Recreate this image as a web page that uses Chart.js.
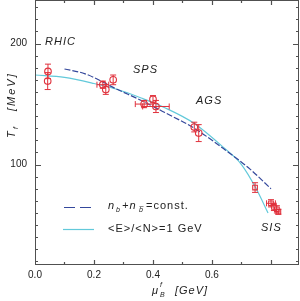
<!DOCTYPE html>
<html>
<head>
<meta charset="utf-8">
<script src="https://cdn.jsdelivr.net/npm/chart.js@4.4.0/dist/chart.umd.min.js"></script>
<style>
  body { margin: 0; background: #fff; }
  #wrap { width: 300px; height: 301px; }
</style>
</head>
<body>
<div id="wrap"><canvas id="c" width="300" height="301"></canvas></div>
<script>
// --- data ---
// <E>/<N> = 1 GeV curve
const cyanMu = [0.0, 0.1, 0.2, 0.28, 0.36, 0.44, 0.54, 0.64, 0.7, 0.75, 0.79];
const cyanT  = [174, 172, 167, 162, 155, 147, 134, 114, 100, 80, 60];
// n_b + n_bbar = const. curve
const darkMu = [0.1, 0.17, 0.28, 0.36, 0.44, 0.54, 0.64, 0.73, 0.8];
const darkT  = [179, 175, 162, 153, 143, 130, 113, 96, 80];

// freeze-out points (circles)
const ptMu   = [0.044, 0.043, 0.23, 0.24, 0.265, 0.37, 0.40, 0.41, 0.54, 0.555];
const ptT    = [177, 169, 166, 162, 170, 150, 154, 148, 131, 126];
const ptMuEr = [0, 0, 0.02, 0, 0, 0.03, 0, 0.045, 0, 0];
const ptTEr  = [6, 7, 3, 4, 4, 3, 3, 5, 4, 7];
// SIS points (squares)
const sisMu   = [0.746, 0.80, 0.81, 0.82, 0.825];
const sisT    = [81, 68, 65, 63, 61];
const sisMuEr = [0, 0.015, 0, 0, 0];
const sisTEr  = [4, 3, 3, 3, 2];

const xTicks = [0.0, 0.2, 0.4, 0.6, 0.8];
const yTicks = [100, 200];

const RED = '#e0313c';
const CYAN = '#62c9da';
const NAVY = '#34489c';
const AXIS = '#505050';

const toXY = (xs, ys) => xs.map((x, i) => ({ x: x, y: ys[i] }));

// error bars
const errorBars = {
  id: 'errorBars',
  afterDatasetsDraw(chart) {
    const { ctx, scales: { x, y } } = chart;
    ctx.save();
    ctx.strokeStyle = RED;
    ctx.lineWidth = 1;
    const draw = (mus, ts, mer, ter) => {
      mus.forEach((m, i) => {
        const px = x.getPixelForValue(m), py = y.getPixelForValue(ts[i]);
        if (ter[i]) {
          const a = y.getPixelForValue(ts[i] + ter[i]), b = y.getPixelForValue(ts[i] - ter[i]);
          ctx.beginPath();
          ctx.moveTo(px, a); ctx.lineTo(px, b);
          ctx.moveTo(px - 3, a); ctx.lineTo(px + 3, a);
          ctx.moveTo(px - 3, b); ctx.lineTo(px + 3, b);
          ctx.stroke();
        }
        if (mer[i]) {
          const a = x.getPixelForValue(m - mer[i]), b = x.getPixelForValue(m + mer[i]);
          ctx.beginPath();
          ctx.moveTo(a, py); ctx.lineTo(b, py);
          ctx.moveTo(a, py - 3); ctx.lineTo(a, py + 3);
          ctx.moveTo(b, py - 3); ctx.lineTo(b, py + 3);
          ctx.stroke();
        }
      });
    };
    draw(ptMu, ptT, ptMuEr, ptTEr);
    draw(sisMu, sisT, sisMuEr, sisTEr);
    ctx.restore();
  }
};

// frame, inward ticks, titles, labels and legend
const decor = {
  id: 'decor',
  afterDraw(chart) {
    const { ctx, chartArea: a, scales: { x, y } } = chart;
    ctx.save();
    ctx.strokeStyle = AXIS;
    ctx.lineWidth = 1;
    ctx.strokeRect(a.left + 0.5, a.top + 0.5, a.right - a.left - 1, a.bottom - a.top - 1);
    ctx.lineWidth = 1.2;
    ctx.beginPath();
    for (let v = 20; v <= 230; v += 10) {
      const py = Math.round(y.getPixelForValue(v)) + 0.5;
      const len = v % 100 === 0 ? 6 : 3;
      ctx.moveTo(a.left, py); ctx.lineTo(a.left + len, py);
      ctx.moveTo(a.right, py); ctx.lineTo(a.right - len, py);
    }
    for (let k = 1; k <= 8; k++) {
      const px = Math.round(x.getPixelForValue(k / 10)) + 0.5;
      const len = k % 2 === 0 ? 5 : 3;
      ctx.moveTo(px, a.bottom); ctx.lineTo(px, a.bottom - len);
      ctx.moveTo(px, a.top); ctx.lineTo(px, a.top + len);
    }
    ctx.stroke();

    ctx.fillStyle = '#222';
    ctx.textBaseline = 'middle';
    ctx.textAlign = 'left';
    ctx.letterSpacing = '1px';
    ctx.font = 'italic 11px "Liberation Sans"';
    ctx.fillText('RHIC', 45, 42);
    ctx.fillText('SPS', 133, 70);
    ctx.fillText('AGS', 196, 101);
    ctx.fillText('SIS', 261, 228);

    // y title, rotated
    ctx.save();
    ctx.translate(12, 138);
    ctx.rotate(-Math.PI / 2);
    ctx.font = 'italic 11px "Liberation Sans"';
    ctx.fillText('T', 0, 0);
    ctx.font = 'italic 7px "Liberation Sans"';
    ctx.fillText('f', 9, 4);
    ctx.font = 'italic 11px "Liberation Sans"';
    ctx.letterSpacing = '2px';
    ctx.fillText('[MeV]', 27, 0);
    ctx.restore();

    // x title
    ctx.font = 'italic 11px "Liberation Sans"';
    ctx.fillText('\u03bc', 152, 291);
    ctx.font = 'italic 7px "Liberation Sans"';
    ctx.fillText('B', 160, 295);
    ctx.fillText('f', 160, 285);
    ctx.font = 'italic 11px "Liberation Sans"';
    ctx.fillText('[GeV]', 175, 291);

    // legend
    ctx.lineWidth = 1.2;
    ctx.strokeStyle = NAVY;
    ctx.setLineDash([11, 5]);
    ctx.beginPath(); ctx.moveTo(64, 207.5); ctx.lineTo(91, 207.5); ctx.stroke();
    ctx.setLineDash([]);
    ctx.strokeStyle = CYAN;
    ctx.beginPath(); ctx.moveTo(63, 229.5); ctx.lineTo(94, 229.5); ctx.stroke();

    ctx.font = 'italic 11px "Liberation Sans"';
    ctx.fillText('n', 108, 206);
    ctx.font = 'italic 7px "Liberation Sans"';
    ctx.fillText('b', 116, 210);
    ctx.font = 'italic 11px "Liberation Sans"';
    ctx.fillText('+n', 122, 206);
    ctx.font = 'italic 7px "Liberation Sans"';
    ctx.fillText('b\u0305', 139, 210);
    ctx.font = '11px "Liberation Sans"';
    ctx.fillText('=const.', 146, 206);
    ctx.fillText('<E>/<N>=1 GeV', 108, 229);
    ctx.restore();
  }
};

new Chart(document.getElementById('c'), {
  type: 'scatter',
  data: {
    datasets: [
      {
        data: toXY(ptMu, ptT),
        pointStyle: 'circle', pointRadius: 3.3, borderWidth: 1.1,
        borderColor: RED, backgroundColor: 'rgba(255,255,255,0)'
      },
      {
        data: toXY(sisMu, sisT),
        pointStyle: 'rect', pointRadius: 3.3, borderWidth: 1.1,
        borderColor: RED, backgroundColor: 'rgba(255,255,255,0)'
      },
      {
        data: toXY(darkMu, darkT),
        showLine: true, pointRadius: 0, borderColor: NAVY, borderWidth: 1.2,
        borderDash: [6, 2], cubicInterpolationMode: 'monotone'
      },
      {
        data: toXY(cyanMu, cyanT),
        showLine: true, pointRadius: 0, borderColor: CYAN, borderWidth: 1.2,
        cubicInterpolationMode: 'monotone'
      }
    ]
  },
  options: {
    responsive: false,
    devicePixelRatio: 1,
    animation: false,
    layout: { autoPadding: false, padding: { top: 0, right: 1, left: 0, bottom: 0 } },
    plugins: { legend: { display: false }, tooltip: { enabled: false } },
    scales: {
      x: {
        type: 'linear', min: 0, max: 0.895,
        grid: { display: false, drawTicks: false },
        border: { display: false },
        ticks: {
          stepSize: 0.1, autoSkip: false, maxRotation: 0, padding: 4,
          color: '#222', font: { family: 'Liberation Sans', size: 10 },
          callback: v => xTicks.some(t => Math.abs(t - v) < 1e-6) ? v.toFixed(1) : null
        },
        afterFit: s => { s.height = 36; s.paddingRight = 0; s.paddingLeft = 0; }
      },
      y: {
        type: 'linear', min: 17, max: 236,
        grid: { display: false, drawTicks: false },
        border: { display: false },
        ticks: {
          stepSize: 10, autoSkip: false, padding: 8,
          color: '#222', font: { family: 'Liberation Sans', size: 10 },
          callback: v => yTicks.includes(v) ? String(v) : null
        },
        afterFit: s => { s.width = 35; s.paddingTop = 0; s.paddingBottom = 0; }
      }
    }
  },
  plugins: [errorBars, decor]
});
</script>
</body>
</html>
